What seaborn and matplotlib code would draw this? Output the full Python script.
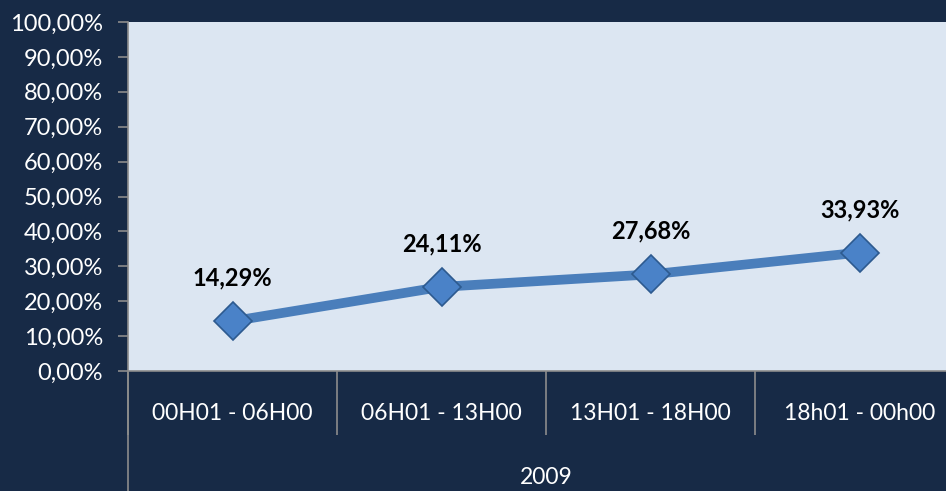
import numpy as np
import pandas as pd
import matplotlib
matplotlib.use("Agg")
import matplotlib.pyplot as plt
import matplotlib.transforms as mtransforms
import seaborn as sb

# data
periods = ["00H01 - 06H00", "06H01 - 13H00", "13H01 - 18H00", "18h01 - 00h00"]
shares = [14.29, 24.11, 27.68, 33.93]
year = "2009"
yticks = [0, 10, 20, 30, 40, 50, 60, 70, 80, 90, 100]

navy = "#172a46"
pane = "#dce6f2"
blue = "#4a7ebb"
grey = "#8c8c8c"

sb.set_style("white")
plt.rcParams["font.family"] = ["Lato", "DejaVu Sans"]

df = pd.DataFrame({"period": periods, "share": shares})

W, H = 946, 491
fig = plt.figure(figsize=(W / 100, H / 100), dpi=100, facecolor=navy)
# plot area runs past the right edge of the picture, as in the reference
ax = fig.add_axes([128 / W, 1 - 371 / H, 836 / W, 349 / H])
ax.set_facecolor(pane)

sb.lineplot(data=df, x="period", y="share", ax=ax, color=blue, linewidth=7,
            marker="D", markersize=19, markerfacecolor="#4a82c8",
            markeredgecolor="#2d5a8f", markeredgewidth=1.2, sort=False)

for i, v in enumerate(shares):
    ax.annotate(f"{v:.2f}%".replace(".", ","), (i, v), xytext=(0, 31),
                textcoords="offset points", ha="center", va="center",
                fontsize=17, fontweight="bold", color="black")

ax.set_xlim(-0.5, len(periods) - 0.5)
ax.set_ylim(0, 100)
ax.set_yticks(yticks)
ax.set_yticklabels([f"{t:.2f}%".replace(".", ",") for t in yticks])
ax.set_xticks(range(len(periods)))
ax.set_xticklabels(periods)
ax.set_xticks(np.arange(-0.5, len(periods)), minor=True)
ax.tick_params(axis="y", colors=grey, length=7, width=1.2, direction="out",
               labelcolor="white", labelsize=17, pad=11, left=True)
ax.tick_params(axis="x", which="major", length=0, labelcolor="white",
               labelsize=16.5, pad=23)
ax.tick_params(axis="x", which="minor", length=46, width=1.2, color=grey,
               direction="out", bottom=True)
ax.set_xlabel("")
ax.set_ylabel("")

for side in ["top", "right"]:
    ax.spines[side].set_visible(False)
for side in ["left", "bottom"]:
    ax.spines[side].set_color(grey)
    ax.spines[side].set_linewidth(1.2)

# outer separator on the left runs down to the bottom
fig.add_artist(plt.Line2D([128 / W, 128 / W], [0, 1 - 371 / H],
                          color=grey, linewidth=1.2))
# group label centred under the whole category span
trans = mtransforms.blended_transform_factory(ax.transAxes, fig.transFigure)
ax.text(0.5, 1 - 477 / H, year, color="white", fontsize=16.5, ha="center",
        va="center", transform=trans)

fig.savefig("out.png", dpi=100, facecolor=navy)
